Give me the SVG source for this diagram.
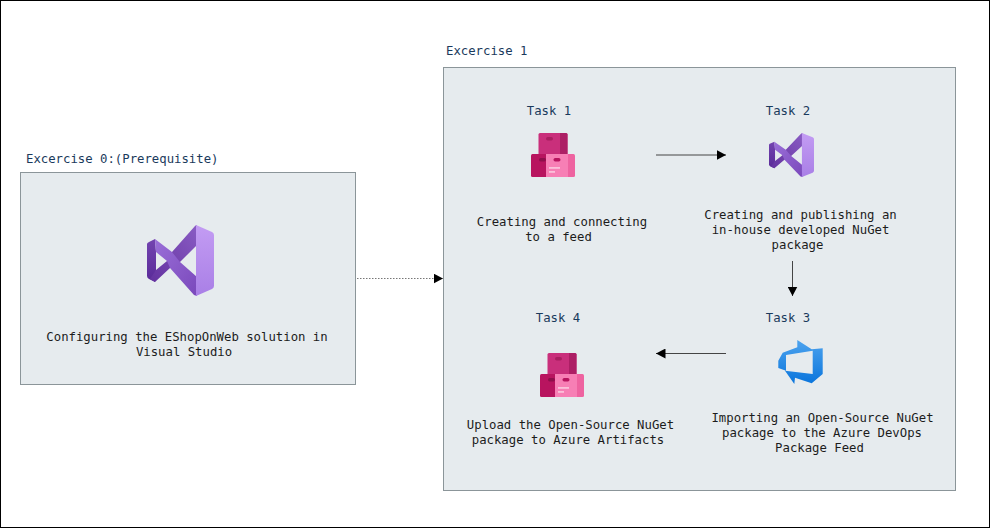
<svg xmlns="http://www.w3.org/2000/svg" width="990" height="528" viewBox="0 0 990 528">
<style>
.box{fill:#e6ebee;stroke:#8b9599;stroke-width:1}
text{font-family:"DejaVu Sans Mono","Liberation Mono",monospace;font-size:12.3px;fill:#1c1c1c}
.h{fill:#1a3a5c}
.m{text-anchor:middle}
.c{fill:none;stroke:#444;stroke-width:1}
</style>
<defs>
<marker id="a" markerUnits="userSpaceOnUse" markerWidth="10" markerHeight="10" refX="9.500" refY="5" orient="auto"><path d="M0 0L9.500 5L0 10z" fill="#000"/></marker>
<linearGradient id="vs1" x1="0" y1="1" x2="1" y2="0"><stop offset="0" stop-color="#63329f"/><stop offset="1" stop-color="#8a5cc4"/></linearGradient>
<linearGradient id="vs2" x1="0" y1="0" x2="1" y2="1"><stop offset="0" stop-color="#9a6fd8"/><stop offset="1" stop-color="#7a48bb"/></linearGradient>
<linearGradient id="vs3" x1="0" y1="0" x2="0" y2="1"><stop offset="0" stop-color="#7344b0"/><stop offset="1" stop-color="#592a98"/></linearGradient>
<linearGradient id="vs4" x1="0" y1="0" x2="0" y2="1"><stop offset="0" stop-color="#c39cf3"/><stop offset="1" stop-color="#a97fe6"/></linearGradient>
<linearGradient id="az" x1="0" y1="0" x2="0" y2="1"><stop offset="0" stop-color="#4da3ee"/><stop offset="1" stop-color="#0a75dc"/></linearGradient>
<symbol id="vs" viewBox="0 0 67 71" preserveAspectRatio="none">
<path d="M0 19Q0 18 2 17L8 14L9 27V45L8 57L2 54Q0 53 0 51z" fill="url(#vs3)"/>
<path d="M8 57L3 54L9 45L20 36L25 27L48 1Q49 0 50 0L50 20L33 37L23 43z" fill="url(#vs1)"/>
<path d="M8 14L25 27L33 37L50 52V71L47 70L23 43L20 36L9 27z" fill="url(#vs2)"/>
<path d="M49 0L65 7Q67 8 67 10V61Q67 63 65 64L49 71z" fill="url(#vs4)"/>
</symbol>
<symbol id="box" viewBox="0 0 44 44" preserveAspectRatio="none">
<rect x="7.500" y="0" width="29" height="22" rx="1.500" fill="#c92f7b"/>
<path d="M29 0H35Q36.500 0 36.500 1.500V22H29z" fill="#ad1f65"/>
<rect x="15" y="4" width="7" height="3.500" rx="1.700" fill="#a81f60"/>
<path d="M1.500 21H15V44H1.500Q0 44 0 42.500V22.500Q0 21 1.500 21z" fill="#b8145f"/>
<rect x="15" y="21" width="22" height="23" fill="#f77fb5"/>
<path d="M37 21H42.500Q44 21 44 22.500V42.500Q44 44 42.500 44H37z" fill="#ee63a0"/>
<rect x="8" y="25" width="7" height="3.500" rx="1.700" fill="#8e0f4b"/>
<rect x="22.500" y="25" width="7" height="3.500" rx="1.700" fill="#b8145f"/>
<rect x="18" y="34" width="11" height="1.800" fill="#fbc1da"/>
<rect x="18" y="38" width="6" height="1.800" fill="#fbc1da"/>
</symbol>
</defs>
<rect x="0.500" y="0.500" width="989" height="527" fill="#fff" stroke="#000"/>
<g id="exercise0">
<rect class="box" x="20.500" y="172.500" width="335" height="212"/>
<text class="h" x="26" y="163">Excercise 0:(Prerequisite)</text>
<use href="#vs" x="147" y="225" width="67" height="71"/>
<text class="m" x="187" y="341">Configuring the EShopOnWeb solution in</text>
<text class="m" x="184" y="356">Visual Studio</text>
</g>
<g id="exercise1">
<rect class="box" x="443.500" y="67.500" width="512" height="423"/>
<text class="h" x="446" y="55">Excercise 1</text>
</g>
<g id="task1">
<text class="h m" x="549" y="115">Task 1</text>
<use href="#box" x="531" y="133" width="44" height="44"/>
<text class="m" x="562" y="226">Creating and connecting</text>
<text class="m" x="558.500" y="241">to a feed</text>
</g>
<g id="task2">
<text class="h m" x="788" y="115">Task 2</text>
<use href="#vs" x="769" y="133" width="45" height="44"/>
<text class="m" x="800.500" y="219">Creating and publishing an</text>
<text class="m" x="800.500" y="234">in-house developed NuGet</text>
<text class="m" x="797.500" y="249">package</text>
</g>
<g id="task3">
<text class="h m" x="788" y="322">Task 3</text>
<path d="M797.300 340L811.700 349.300L822.700 348.300V374L811.700 383.300L795 377.700L794.300 384L785 370.700L812.700 374V350.700L786 355V370.700L778.300 368V360.700L782.700 352.700L797.300 347.300z" fill="url(#az)"/>
<text class="m" x="822.500" y="422">Importing an Open-Source NuGet</text>
<text class="m" x="822" y="437">package to the Azure DevOps</text>
<text class="m" x="819.500" y="452">Package Feed</text>
</g>
<g id="task4">
<text class="h m" x="558" y="322">Task 4</text>
<use href="#box" x="540" y="353" width="44" height="44"/>
<text class="m" x="570.500" y="429">Upload the Open-Source NuGet</text>
<text class="m" x="568" y="444">package to Azure Artifacts</text>
</g>
<g id="connectors">
<path class="c" d="M357 278.500H443" stroke-dasharray="1.500 1.500" marker-end="url(#a)" style="stroke:#777"/>
<path class="c" d="M656 155H726" marker-end="url(#a)"/>
<path class="c" d="M792.500 261V296" marker-end="url(#a)"/>
<path class="c" d="M726 353.500H656" marker-end="url(#a)"/>
</g>
</svg>
